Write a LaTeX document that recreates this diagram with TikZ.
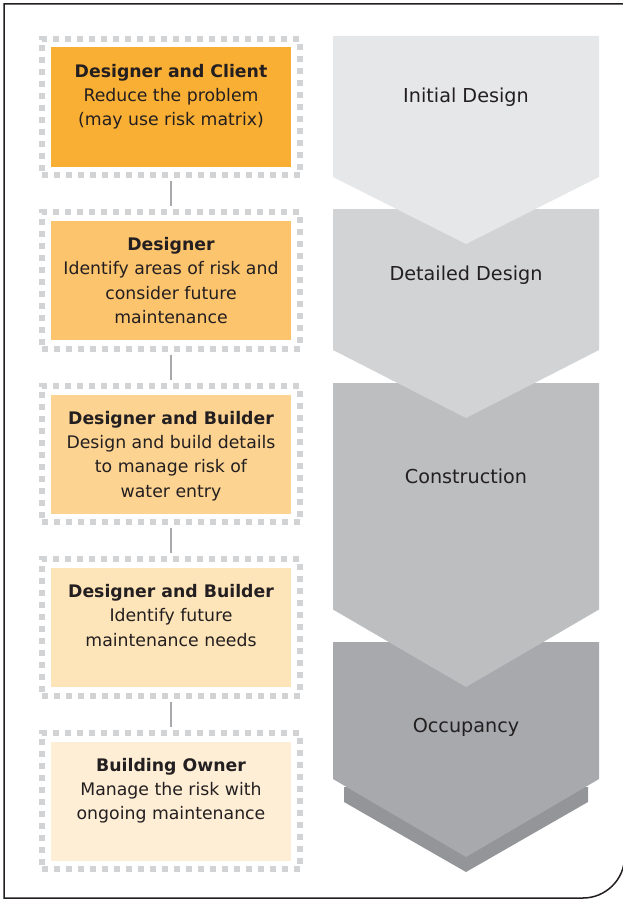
\documentclass[tikz,border=0pt]{standalone}
\usepackage{fontspec}
\setmainfont{DejaVu Sans}
\usetikzlibrary{positioning}
\definecolor{inkgray}{HTML}{231F20}
\definecolor{dotgray}{HTML}{D1D3D4}
\definecolor{linkgray}{HTML}{A7A9AC}
\definecolor{boxA}{HTML}{F9AE34}
\definecolor{boxB}{HTML}{FDC46E}
\definecolor{boxC}{HTML}{FDD391}
\definecolor{boxD}{HTML}{FEE4B9}
\definecolor{boxE}{HTML}{FEEED6}
\definecolor{initgray}{HTML}{E6E7E8}
\definecolor{detgray}{HTML}{D1D3D4}
\definecolor{consgray}{HTML}{BCBEC0}
\definecolor{occgray}{HTML}{A7A9AC}
\definecolor{shadegray}{HTML}{939598}

\begin{document}
\begin{tikzpicture}[x=1pt,y=-1pt,
  dotframe/.style={draw=dotgray, line width=6pt, dash pattern=on 6pt off 6pt, minimum width=258.5pt, minimum height=136.4pt, inner sep=0pt},
  fillbox/.style={minimum width=240pt, minimum height=119pt, inner sep=0pt},
  boxtext/.style={align=center, inner sep=0pt, text=inkgray, font=\fontsize{17.3}{24.3}\selectfont},
  stage/.style={anchor=base, inner sep=0pt, text=inkgray, font=\fontsize{19.2}{23}\selectfont},
  link/.style={draw=linkgray, line width=1.5pt, shorten <=3pt, shorten >=3pt}]

\useasboundingbox (0,0) rectangle (623,899);

% outer frame with round corner (right side falls just off the page)
\draw[inkgray, line width=1.5pt] (624.5,857) -- (624.5,4) -- (4,4) -- (4,898) -- (583,898)
  .. controls (605.6,898) and (624.5,879.6) .. (624.5,857);

% stages on the right
\fill[shadegray] (344,787) -- (588,787) -- (588,802) -- (466,872) -- (344,802) -- cycle; % shadow
\fill[occgray] (333,642) -- (599,642) -- (599,779) -- (466,857) -- (333,779) -- cycle;
\fill[consgray] (333,383) -- (599,383) -- (599,609.5) -- (466,687) -- (333,609.5) -- cycle;
\fill[detgray] (333,209) -- (599,209) -- (599,350) -- (466,418) -- (333,350) -- cycle;
\fill[initgray] (333,36) -- (599,36) -- (599,177) -- (466,244) -- (333,177) -- cycle;

\node[stage] (sInit) at (466,102.5) {Initial Design};
\node[stage] (sDet) at (466,280.7) {Detailed Design};
\node[stage] (sCons) at (466,483.3) {Construction};
\node[stage] (sOcc) at (466,732) {Occupancy};

% who does what
\node[dotframe] (f1) at (171,107) {};
\node[fillbox, fill=boxA] (b1) at (f1.center) {};
\node[boxtext, below=16.5pt of b1.north] (t1) {\textbf{Designer and Client}\\Reduce the problem\\(may use risk matrix)};

\node[dotframe] (f2) at (171,280.5) {};
\node[fillbox, fill=boxB] (b2) at (f2.center) {};
\node[boxtext, below=16.5pt of b2.north] (t2) {\textbf{Designer}\\Identify areas of risk and\\consider future\\maintenance};

\node[dotframe] (f3) at (171,454) {};
\node[fillbox, fill=boxC] (b3) at (f3.center) {};
\node[boxtext, below=16.5pt of b3.north] (t3) {\textbf{Designer and Builder}\\Design and build details\\to manage risk of\\water entry};

\node[dotframe] (f4) at (171,627.5) {};
\node[fillbox, fill=boxD] (b4) at (f4.center) {};
\node[boxtext, below=16.5pt of b4.north] (t4) {\textbf{Designer and Builder}\\Identify future\\maintenance needs};

\node[dotframe] (f5) at (171,801) {};
\node[fillbox, fill=boxE] (b5) at (f5.center) {};
\node[boxtext, below=16.5pt of b5.north] (t5) {\textbf{Building Owner}\\Manage the risk with\\ongoing maintenance};

\draw[link] (f1.south) -- (f2.north);
\draw[link] (f2.south) -- (f3.north);
\draw[link] (f3.south) -- (f4.north);
\draw[link] (f4.south) -- (f5.north);

\end{tikzpicture}
\end{document}
